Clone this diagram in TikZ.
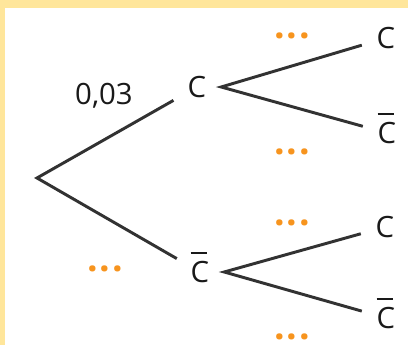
\documentclass[tikz,border=0pt]{standalone}
\usepackage{fontspec}
\setmainfont{Open Sans}
\usepackage{xcolor}
\definecolor{bandyellow}{RGB}{255,230,155}
\definecolor{dotorange}{RGB}{247,148,30}
\definecolor{branchgray}{RGB}{50,50,50}
\newcommand{\Cb}{\makebox[0pt][l]{\raisebox{21.5pt}{\rule{12.5pt}{1.6pt}}}C}
\newcommand{\pts}{{\color{dotorange}\fontsize{28}{30}\selectfont\bfseries .\kern1.4pt.\kern1.4pt.}}

\begin{document}
\begin{tikzpicture}[x=0.75pt,y=0.75pt,
  every node/.style={font=\fontsize{22}{26}\selectfont, text=black!90},
  ev/.style={inner xsep=11pt, inner ysep=2pt, text height=15.7pt, text depth=0pt},
  branch/.style={draw=branchgray, line width=2.2pt}]
\useasboundingbox (0,0) rectangle (408,345);
\fill[white] (0,0) rectangle (408,345);
\fill[bandyellow] (0,337) rectangle (408,345);
\fill[bandyellow] (0,0) rectangle (5,337);

% the tree
\coordinate (root) at (37,167);
\node[ev] (c) at (197,258) {C};
\node[ev] (cb) at (200,73) {\Cb};
\node[ev] (cc) at (386,307) {C};
\node[ev] (ccb) at (387,212) {\Cb};
\node[ev] (cbc) at (385,118) {C};
\node[ev] (cbcb) at (386,27) {\Cb};

\draw[branch] (c) -- (root) -- (cb);
\draw[branch] (cc) -- (c.east) -- (ccb);
\draw[branch] (cbc) -- (cb.east) -- (cbcb);

% probabilities
\node (p) at (104,249) {0,03};
\node (pb) at (105,76) {\pts};
\node (pcc) at (292,309) {\pts};
\node (pccb) at (292,193) {\pts};
\node (pcbc) at (292,122) {\pts};
\node[inner sep=0pt] (pcbcb) at (292,8) {\pts};
\end{tikzpicture}
\end{document}
